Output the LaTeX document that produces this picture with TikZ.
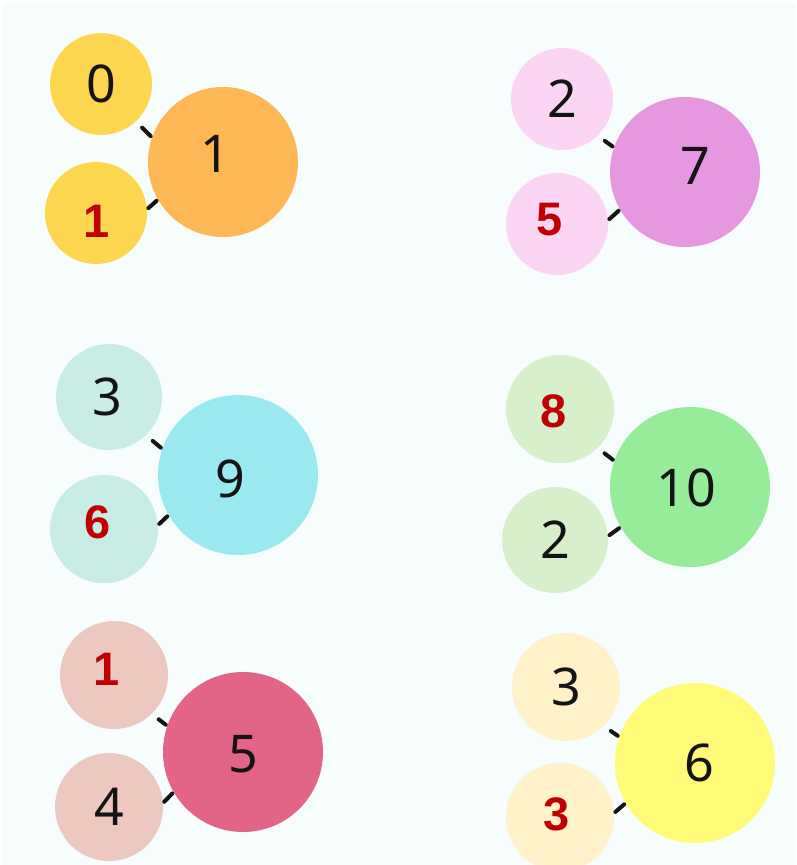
\documentclass[tikz,border=0pt]{standalone}
\usepackage{fontspec}
\setmainfont{Noto Sans}
\newfontfamily\redfont{Liberation Sans}
\definecolor{bgc}{RGB}{247,252,252}
\definecolor{redtxt}{RGB}{192,0,0}
\definecolor{inkc}{RGB}{20,20,20}
\definecolor{gAs}{RGB}{253,214,80}
\definecolor{gAb}{RGB}{253,183,85}
\definecolor{gBs}{RGB}{252,213,245}
\definecolor{gBb}{RGB}{229,151,224}
\definecolor{gCs}{RGB}{200,237,230}
\definecolor{gCb}{RGB}{154,233,240}
\definecolor{gDs}{RGB}{215,239,203}
\definecolor{gDb}{RGB}{151,236,154}
\definecolor{gEs}{RGB}{237,200,193}
\definecolor{gEb}{RGB}{226,100,135}
\definecolor{gFs}{RGB}{255,241,200}
\definecolor{gFb}{RGB}{255,251,119}
\tikzset{
  bub/.style={circle,inner sep=0pt,outer sep=0pt,minimum size=#1},
  blk/.style={font=\fontsize{52}{52}\selectfont,text=inkc,inner sep=0pt},
  rd/.style={font=\redfont\bfseries\fontsize{47}{47}\selectfont,text=redtxt,inner sep=0pt},
  conn/.style={line width=4pt,draw=inkc,line cap=round,shorten <=2pt,shorten >=2pt},
  upper/.style={conn,shorten <=9pt}
}
\begin{document}
\begin{tikzpicture}[x=1pt,y=-1pt]
\useasboundingbox (0,0) rectangle (796,865);
\fill[white] (0,0) rectangle (796,865);
\fill[bgc] (3,3) rectangle (796,865);
% group 1
\node[bub=102,fill=gAs,label={[blk]center:0}] (a0) at (101,84) {};
\node[bub=102,fill=gAs,label={[rd,xshift=1pt,yshift=-8pt]center:1}] (a1) at (96,213) {};
\node[bub=150,fill=gAb,label={[blk,xshift=-8pt,yshift=8pt]center:1}] (A) at (223,162) {};
\draw[upper] (a0.-47) -- (A.161);
\draw[conn] (a1.4) -- (A.210);
% group 2
\node[bub=102,fill=gBs,label={[blk]center:2}] (b0) at (562,99) {};
\node[bub=102,fill=gBs,label={[rd,xshift=-7pt,yshift=4pt]center:5}] (b1) at (557,224) {};
\node[bub=150,fill=gBb,label={[blk,xshift=10pt,yshift=6pt]center:7}] (B) at (685,172) {};
\draw[upper] (b0.-46) -- (B.161);
\draw[conn] (b1.4) -- (B.210);
% group 3
\node[bub=106,fill=gCs,label={[blk,xshift=-2pt]center:3}] (c0) at (109,397) {};
\node[bub=108,fill=gCs,label={[rd,xshift=-6pt,yshift=7pt]center:6}] (c1) at (104,529) {};
\node[bub=160,fill=gCb,label={[blk,xshift=-8pt,yshift=-4pt]center:9}] (C) at (238,475) {};
\draw[upper] (c0.-46) -- (C.161);
\draw[conn] (c1.4) -- (C.210);
% group 4
\node[bub=108,fill=gDs,label={[rd,xshift=-6pt,yshift=-2pt]center:8}] (d0) at (560,409) {};
\node[bub=106,fill=gDs,label={[blk]center:2}] (d1) at (555,540) {};
\node[bub=160,fill=gDb,label={[blk,xshift=-4pt,yshift=-1pt]center:10}] (D) at (690,487) {};
\draw[upper] (d0.-46) -- (D.161);
\draw[conn] (d1.4) -- (D.210);
% group 5
\node[bub=108,fill=gEs,label={[rd,xshift=-7pt,yshift=6pt]center:1}] (e0) at (114,675) {};
\node[bub=108,fill=gEs,label={[blk]center:4}] (e1) at (109,807) {};
\node[bub=160,fill=gEb,label={[blk,yshift=-2pt]center:5}] (E) at (243,752) {};
\draw[upper] (e0.-46) -- (E.161);
\draw[conn] (e1.4) -- (E.210);
% group 6
\node[bub=108,fill=gFs,label={[blk]center:3}] (f0) at (566,687) {};
\node[bub=108,fill=gFs,label={[rd,xshift=-3pt,yshift=3pt]center:3}] (f1) at (560,817) {};
\node[bub=160,fill=gFb,label={[blk,xshift=4pt]center:6}] (F) at (695,763) {};
\draw[upper] (f0.-46) -- (F.161);
\draw[conn] (f1.4) -- (F.210);
\end{tikzpicture}
\end{document}
